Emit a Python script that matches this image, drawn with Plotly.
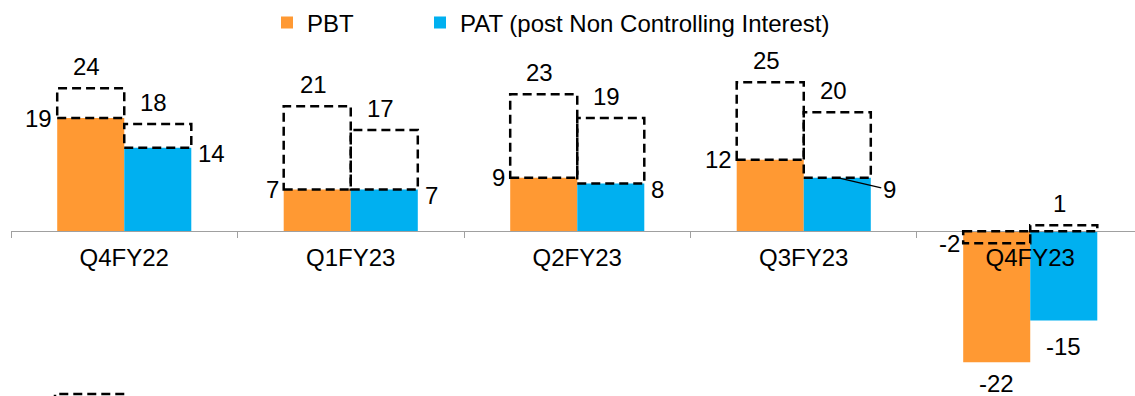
import plotly.graph_objects as go

# Quarterly profit figures
quarters = ["Q4FY22", "Q1FY23", "Q2FY23", "Q3FY23", "Q4FY23"]
pbt = [19, 7, 9, 12, -22]
pat = [14, 7, 8, 9, -15]
# Comparison values shown as dashed outlines on top of each bar
pbt_ref = [24, 21, 23, 25, -2]
pat_ref = [18, 17, 19, 20, 1]

ORANGE = "#FF9933"
BLUE = "#00B0F0"
FONT = "Liberation Sans, Arial, sans-serif"
FS = 24

BARGAP = 0.408
BW = (1 - BARGAP) / 2  # width of one bar in category units

Y_MIN, Y_MAX = -27.67, 38.33
X_MIN, X_MAX = -0.5, 4.4625

fig = go.Figure()
fig.add_trace(go.Bar(name="PBT", x=quarters, y=pbt, marker_color=ORANGE,
                     marker_line_width=0, legend="legend"))
fig.add_trace(go.Bar(name="PAT (post Non Controlling Interest)", x=quarters, y=pat,
                     marker_color=BLUE, marker_line_width=0, legend="legend2"))

shapes = []
annotations = []


def ref_box(x0, x1, actual, ref):
    base = max(actual, 0)
    shapes.append(dict(type="rect", xref="x", yref="y", x0=x0, x1=x1,
                       y0=base, y1=ref, layer="above",
                       line=dict(color="black", width=2.5, dash="9px,5px"),
                       fillcolor="rgba(0,0,0,0)"))
    if ref >= 0:
        annotations.append(dict(x=(x0 + x1) / 2, y=ref, text=str(ref), showarrow=False,
                                xanchor="center", yanchor="bottom", xshift=-4, yshift=6))
    else:
        annotations.append(dict(x=x0, y=ref, text=str(ref), showarrow=False,
                                xanchor="right", yanchor="middle", xshift=-1))


for i in range(len(quarters)):
    ref_box(i - BW, i, pbt[i], pbt_ref[i])
    ref_box(i, i + BW, pat[i], pat_ref[i])

    # PBT value label
    if pbt[i] < 0:
        annotations.append(dict(x=i - BW / 2, y=pbt[i], text=str(pbt[i]), showarrow=False,
                                yanchor="middle", yshift=-21))
    else:
        annotations.append(dict(x=i - BW, y=pbt[i], text=str(pbt[i]), showarrow=False,
                                xanchor="right", yanchor="middle", xshift=-3, yshift=0))
    # PAT value label
    if pat[i] < 0:
        annotations.append(dict(x=i + BW / 2, y=pat[i], text=str(pat[i]), showarrow=False,
                                yanchor="middle", yshift=-26))
    elif i == 3:
        annotations.append(dict(x=i + BW / 2, y=pat[i], text=str(pat[i]), showarrow=True,
                                arrowhead=0, arrowwidth=1.3, arrowcolor="black",
                                ax=52, ay=12, standoff=0))
    else:
        annotations.append(dict(x=i + BW, y=pat[i], text=str(pat[i]), showarrow=False,
                                xanchor="left", yanchor="middle", xshift=5, yshift=-6))

# Legend key for the dashed outline series, running off the bottom edge
shapes.append(dict(type="rect", xref="paper", yref="paper",
                   x0=(55 - 11) / 1124, x1=(125 - 11) / 1124,
                   y0=-0.1, y1=1 - 394 / 396,
                   line=dict(color="black", width=2.5, dash="9px,5px"),
                   fillcolor="rgba(0,0,0,0)"))

legend_style = dict(orientation="h", xanchor="left", y=1 - 20 / 396, yanchor="middle",
                    font=dict(family=FONT, size=FS, color="black"),
                    bgcolor="rgba(0,0,0,0)", itemclick=False, itemdoubleclick=False)

fig.update_layout(
    width=1135, height=396,
    margin=dict(l=11, r=0, t=0, b=0),
    paper_bgcolor="white", plot_bgcolor="white",
    barmode="group", bargap=BARGAP, bargroupgap=0,
    font=dict(family=FONT, size=FS, color="black"),
    showlegend=True,
    legend=dict(x=(267 - 11) / 1124, **legend_style),
    legend2=dict(x=(420 - 11) / 1124, **legend_style),
    shapes=shapes,
    annotations=annotations,
    xaxis=dict(range=[X_MIN, X_MAX], anchor="free",
               position=(0 - Y_MIN) / (Y_MAX - Y_MIN),
               showline=True, linecolor="#A0A0A0", linewidth=1,
               ticks="outside", tickson="boundaries", ticklen=6, tickcolor="#A0A0A0",
               ticklabelstandoff=5, showgrid=False, zeroline=False,
               tickfont=dict(family=FONT, size=FS, color="black")),
    yaxis=dict(range=[Y_MIN, Y_MAX], visible=False, showgrid=False, zeroline=False),
)

fig.write_html("out.html")
